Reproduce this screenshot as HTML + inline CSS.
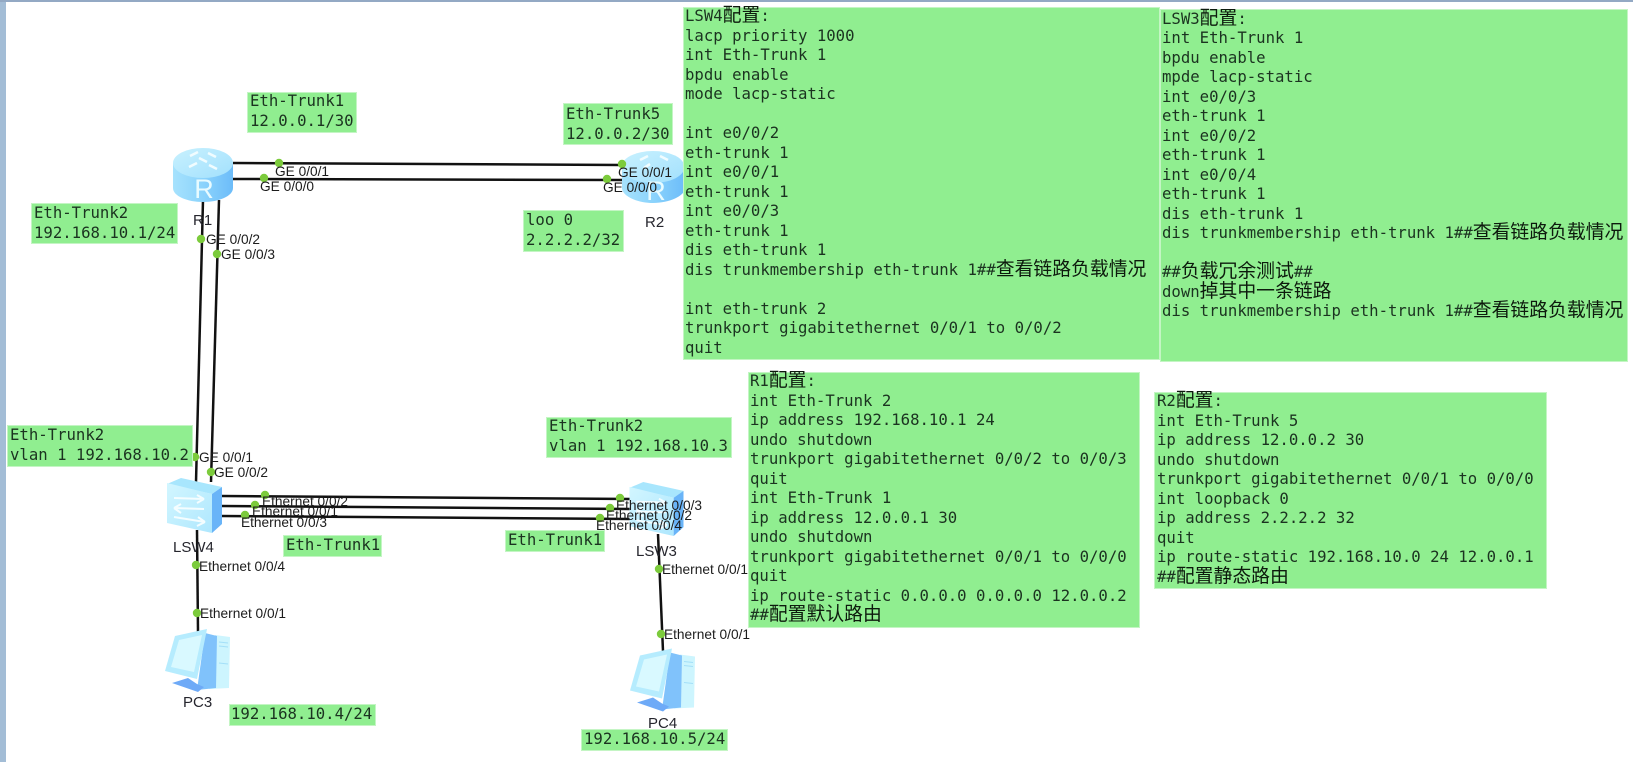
<!DOCTYPE html>
<html lang="zh">
<head>
<meta charset="utf-8">
<title>Eth-Trunk network diagram</title>
<style>
html,body{margin:0;padding:0;background:#fff}
#page{position:relative;width:1633px;height:762px;overflow:hidden;background:#fff;filter:blur(.3px)}
.strip-l{position:absolute;left:0;top:0;width:6px;height:762px;background:#a3bdd6}
.strip-t{position:absolute;left:0;top:0;width:1633px;height:2px;background:#93a9c4}
svg{position:absolute;left:0;top:0}
svg text{font-family:"Liberation Sans",Arial,sans-serif;font-size:13.7px;fill:#1c1c1c}
svg text.n{font-size:15px;fill:#26262e}
.box{position:absolute;background:#90ee90;box-shadow:0 0 0 1px #c4f5c4 inset}
.t{position:absolute;margin:0;font-family:"DejaVu Sans Mono","Liberation Mono",monospace;font-size:15.65px;line-height:19.5px;color:#1b3320;white-space:pre}
.c{font-family:"Noto Sans CJK SC","WenQuanYi Zen Hei",sans-serif;font-size:18.84px;line-height:10px;color:#0d1a0d;letter-spacing:0}
</style>
</head>
<body>
<div id="page">
<div class="strip-l"></div><div class="strip-t"></div>

<svg width="1633" height="762" viewBox="0 0 1633 762" xmlns="http://www.w3.org/2000/svg">
<defs>
<linearGradient id="rs" x1="0" x2="1" y1="0" y2="0"><stop offset="0" stop-color="#a6e2fd"/><stop offset=".5" stop-color="#8bd3fc"/><stop offset="1" stop-color="#6cbcf9"/></linearGradient>
<linearGradient id="rt" x1="0" x2="1" y1="0" y2="1"><stop offset="0" stop-color="#c8f1fe"/><stop offset="1" stop-color="#a2e0fd"/></linearGradient>
<linearGradient id="sc" x1="0" x2="1" y1="0" y2="1"><stop offset="0" stop-color="#d2f6ff"/><stop offset="1" stop-color="#aee7fe"/></linearGradient>
<symbol id="sw" viewBox="0 0 55 55">
<path d="M0 6 L14 0 L55 9 L45 16 Z" fill="#a8e6fd"/>
<path d="M0 5 L45 16 L45 55 L0 45 Z" fill="url(#sc)"/>
<path d="M45 16 L55 9 L55 46 L45 55 Z" fill="#69b4f8"/>
<path d="M7 20 L37 21 M37 21 L30 17 M37 21 L30 25 M7 30 L37 31 M7 30 L14 26 M7 30 L14 35 M7 39 L38 44 M38 44 L31 39 M38 44 L30 48" stroke="#f4fdff" stroke-width="2" fill="none"/>
</symbol>
<symbol id="pc" viewBox="0 0 65 63">
<path d="M50 6 L65 8 L64 59 L44 60 Z" fill="#cdf5fe"/>
<path d="M40 4 L52 7 L51 59 L32 61 Z" fill="#80c2fb"/>
<path d="M54 13 L63 14 M54 17 L63 18 M54 34 L63 35" stroke="#a3dff8" stroke-width="1"/>
<path d="M0 42 L10 7 L42 0 L32 50 Z" fill="#b6ecfe"/>
<path d="M6 38 L14 11 L37 6 L29 43 Z" fill="#d9f9ff"/>
<path d="M7 54 L23 49 L32 55 L39 58 L33 63 Z" fill="#6eaaf7"/>
</symbol>
</defs>

<g stroke="#111" stroke-width="2.5" fill="none">
<line x1="233" y1="163" x2="622" y2="165"/>
<line x1="233" y1="179" x2="622" y2="180"/>
<line x1="203" y1="200" x2="196" y2="482"/>
<line x1="219" y1="200" x2="211" y2="482"/>
<line x1="222" y1="496" x2="632" y2="499"/>
<line x1="222" y1="506" x2="632" y2="509"/>
<line x1="222" y1="516" x2="632" y2="519"/>
<line x1="197" y1="530" x2="198" y2="632"/>
<line x1="658" y1="534" x2="663" y2="651"/>
</g>

<!-- R1 -->
<path d="M173 163 V188 C173 196 187 202 203 202 C219 202 233 196 233 188 V163 Z" fill="url(#rs)"/>
<ellipse cx="203" cy="163" rx="30" ry="15" fill="url(#rt)"/>
<path d="M190 156 L198 152 M208 153 L216 157 M189 167 L197 163 M209 165 L217 169 M199 158 L207 162" stroke="#f0fcff" stroke-width="2.6"/>
<text x="204" y="198" text-anchor="middle" style="font-size:27px;fill:#e8fbff">R</text>
<!-- R2 -->
<path d="M622 167 V188 C622 196 637 203 653 203 C669 203 685 196 685 188 V167 Z" fill="url(#rs)"/>
<ellipse cx="653" cy="167" rx="31.5" ry="16" fill="url(#rt)"/>
<path d="M640 160 L648 156 M660 156 L668 160 M644 168 L650 164" stroke="#f0fcff" stroke-width="2.6"/>
<text x="656" y="200" text-anchor="middle" style="font-size:27px;fill:#e8fbff">R</text>

<use href="#sw" x="167" y="478" width="55" height="55"/>
<use href="#sw" x="629" y="482" width="55" height="54"/>
<use href="#pc" x="165" y="629" width="65" height="63"/>
<use href="#pc" x="630" y="648" width="65" height="64"/>

<g fill="#7ccb3c">
<circle cx="279" cy="163" r="4.2"/><circle cx="264" cy="178" r="4.2"/>
<circle cx="201" cy="239" r="4.2"/><circle cx="217" cy="254" r="4.2"/>
<circle cx="622" cy="164" r="4.2"/><circle cx="607" cy="179" r="4.2"/>
<circle cx="195" cy="457" r="4.2"/><circle cx="211" cy="472" r="4.2"/>
<circle cx="265" cy="495" r="4.2"/><circle cx="255" cy="505" r="4.2"/><circle cx="245" cy="515" r="4.2"/>
<circle cx="196" cy="565" r="4.2"/><circle cx="197" cy="613" r="4.2"/>
<circle cx="620" cy="498" r="4.2"/><circle cx="610" cy="508" r="4.2"/><circle cx="600" cy="518" r="4.2"/>
<circle cx="659" cy="569" r="4.2"/><circle cx="661" cy="634" r="4.2"/>
</g>

<text x="275" y="176">GE 0/0/1</text>
<text x="260" y="191">GE 0/0/0</text>
<text x="206" y="244">GE 0/0/2</text>
<text x="221" y="259">GE 0/0/3</text>
<text class="n" x="193" y="225">R1</text>
<text x="618" y="177">GE 0/0/1</text>
<text x="603" y="192">GE 0/0/0</text>
<text class="n" x="645" y="227">R2</text>
<text x="199" y="462">GE 0/0/1</text>
<text x="214" y="477">GE 0/0/2</text>
<text x="262" y="506">Ethernet 0/0/2</text>
<text x="252" y="516">Ethernet 0/0/1</text>
<text x="241" y="527">Ethernet 0/0/3</text>
<text class="n" x="173" y="552">LSW4</text>
<text x="199" y="571">Ethernet 0/0/4</text>
<text x="200" y="618">Ethernet 0/0/1</text>
<text class="n" x="183" y="707">PC3</text>
<text x="616" y="510">Ethernet 0/0/3</text>
<text x="606" y="520">Ethernet 0/0/2</text>
<text x="596" y="530">Ethernet 0/0/4</text>
<text class="n" x="636" y="556">LSW3</text>
<text x="662" y="574">Ethernet 0/0/1</text>
<text x="664" y="639">Ethernet 0/0/1</text>
<text class="n" x="648" y="728">PC4</text>
</svg>

<!-- small labels -->
<div class="box" style="left:247px;top:92px;width:110px;height:41px"></div>
<pre class="t" style="left:250px;top:91px">Eth-Trunk1
12.0.0.1/30</pre>
<div class="box" style="left:31px;top:203px;width:147px;height:41px"></div>
<pre class="t" style="left:34px;top:203px">Eth-Trunk2
192.168.10.1/24</pre>
<div class="box" style="left:563px;top:103px;width:110px;height:42px"></div>
<pre class="t" style="left:566px;top:104px">Eth-Trunk5
12.0.0.2/30</pre>
<div class="box" style="left:523px;top:210px;width:101px;height:42px"></div>
<pre class="t" style="left:526px;top:210px">loo 0
2.2.2.2/32</pre>
<div class="box" style="left:7px;top:425px;width:186px;height:42px"></div>
<pre class="t" style="left:10px;top:425px">Eth-Trunk2
vlan 1 192.168.10.2</pre>
<div class="box" style="left:546px;top:417px;width:186px;height:41px"></div>
<pre class="t" style="left:549px;top:416px">Eth-Trunk2
vlan 1 192.168.10.3</pre>
<div class="box" style="left:283px;top:535px;width:99px;height:22px"></div>
<pre class="t" style="left:286px;top:535px">Eth-Trunk1</pre>
<div class="box" style="left:505px;top:530px;width:100px;height:22px"></div>
<pre class="t" style="left:508px;top:530px">Eth-Trunk1</pre>
<div class="box" style="left:229px;top:704px;width:147px;height:22px"></div>
<pre class="t" style="left:231px;top:704px">192.168.10.4/24</pre>
<div class="box" style="left:581px;top:729px;width:147px;height:22px"></div>
<pre class="t" style="left:584px;top:729px">192.168.10.5/24</pre>

<!-- config boxes -->
<div class="box" style="left:683px;top:7px;width:477px;height:353px"></div>
<pre class="t" style="left:685px;top:6px">LSW4<span class="c">配置</span>:
lacp priority 1000
int Eth-Trunk 1
bpdu enable
mode lacp-static

int e0/0/2
eth-trunk 1
int e0/0/1
eth-trunk 1
int e0/0/3
eth-trunk 1
dis eth-trunk 1
dis trunkmembership eth-trunk 1##<span class="c">查看链路负载情况</span>

int eth-trunk 2
trunkport gigabitethernet 0/0/1 to 0/0/2
quit</pre>

<div class="box" style="left:1160px;top:9px;width:468px;height:353px"></div>
<pre class="t" style="left:1162px;top:8.5px">LSW3<span class="c">配置</span>:
int Eth-Trunk 1
bpdu enable
mpde lacp-static
int e0/0/3
eth-trunk 1
int e0/0/2
eth-trunk 1
int e0/0/4
eth-trunk 1
dis eth-trunk 1
dis trunkmembership eth-trunk 1##<span class="c">查看链路负载情况</span>

##<span class="c">负载冗余测试</span>##
down<span class="c">掉其中一条链路</span>
dis trunkmembership eth-trunk 1##<span class="c">查看链路负载情况</span></pre>

<div class="box" style="left:748px;top:372px;width:392px;height:256px"></div>
<pre class="t" style="left:750px;top:371px">R1<span class="c">配置</span>:
int Eth-Trunk 2
ip address 192.168.10.1 24
undo shutdown
trunkport gigabitethernet 0/0/2 to 0/0/3
quit
int Eth-Trunk 1
ip address 12.0.0.1 30
undo shutdown
trunkport gigabitethernet 0/0/1 to 0/0/0
quit
ip route-static 0.0.0.0 0.0.0.0 12.0.0.2
##<span class="c">配置默认路由</span></pre>

<div class="box" style="left:1154px;top:392px;width:393px;height:197px"></div>
<pre class="t" style="left:1157px;top:391px">R2<span class="c">配置</span>:
int Eth-Trunk 5
ip address 12.0.0.2 30
undo shutdown
trunkport gigabitethernet 0/0/1 to 0/0/0
int loopback 0
ip address 2.2.2.2 32
quit
ip route-static 192.168.10.0 24 12.0.0.1
##<span class="c">配置静态路由</span></pre>
</div>
</body>
</html>
